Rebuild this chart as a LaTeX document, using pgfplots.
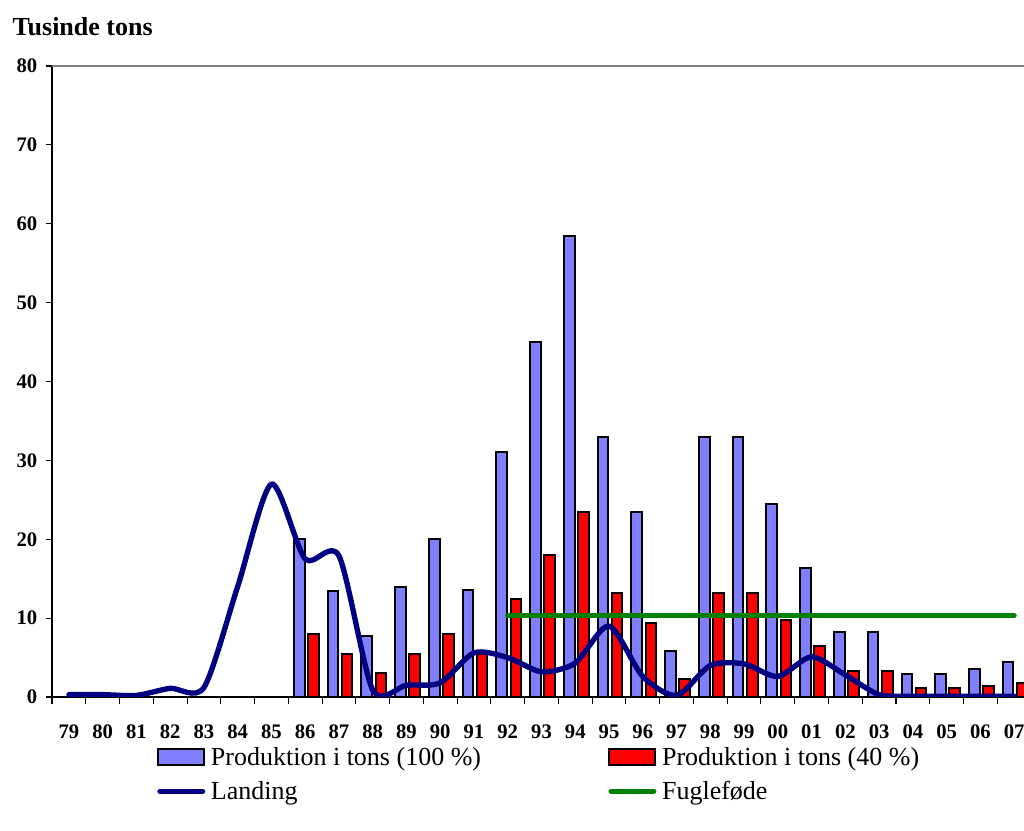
\documentclass[border=0pt]{standalone}
\usepackage{fontspec}
\setmainfont{Liberation Serif}
\usepackage{pgfplots}
\pgfplotsset{compat=1.18}
\definecolor{barblue}{HTML}{8080FF}
\definecolor{barred}{HTML}{FF0000}
\definecolor{landnavy}{HTML}{000080}
\definecolor{fuglegreen}{HTML}{008000}
\begin{document}
\begin{tikzpicture}
\begin{axis}[
  at={(0,0)}, anchor=south west,
  scale only axis,
  width=734.25pt, height=473.25pt,
  xmin=-0.5, xmax=28.5, ymin=0, ymax=80,
  axis x line*=bottom, axis y line*=left,
  axis line style={black, line width=0.8pt},
  xtick={0,...,28},
  xticklabels={79,80,81,82,83,84,85,86,87,88,89,90,91,92,93,94,95,96,97,98,99,00,01,02,03,04,05,06,07},
  major x tick style={draw=none},
  minor xtick={-0.5,0.5,...,28.5},
  minor tick length=5pt,
  ytick={0,10,...,70},
  extra y ticks={80},
  extra y tick labels={80},
  extra y tick style={ymajorgrids=true, major grid style={gray, line width=1.2pt}},
  tick align=outside,
  major tick length=4.5pt,
  tick style={black, line width=0.8pt},
  /pgf/number format/assume math mode=true,
  tick label style={font=\fontsize{15.5}{18}\selectfont\bfseries},
  xticklabel style={yshift=-12.5pt},
  yticklabel style={xshift=-3pt},
  legend columns=2,
  legend style={draw=none, fill=none, inner sep=0pt,
    at={(0.1073,-0.0752)}, anchor=north west,
    font=\fontsize{19.5}{23}\selectfont, row sep=6.25pt,
    /tikz/every even column/.append style={column sep=93.5pt}},
  legend cell align=left,
]
\addplot[ybar, bar width=8pt, bar shift=-4.5pt, fill=barblue, draw=black, line width=1.5pt,
  legend image code/.code={\draw[fill=barblue, draw=black, line width=1.5pt] (0.75pt,-5.5pt) rectangle (35.25pt,6pt);}]
  coordinates {(7,20) (8,13.5) (9,7.7) (10,13.9) (11,20) (12,13.6) (13,31) (14,45) (15,58.5) (16,33) (17,23.5) (18,5.8) (19,33) (20,33) (21,24.5) (22,16.4) (23,8.2) (24,8.2) (25,2.9) (26,2.9) (27,3.5) (28,4.4)};
\addlegendentry{\hspace{2.25pt}Produktion i tons (100 \%)}
\addplot[ybar, bar width=8pt, bar shift=6.1pt, fill=barred, draw=black, line width=1.5pt,
  legend image code/.code={\draw[fill=barred, draw=black, line width=1.5pt] (0.75pt,-5.5pt) rectangle (35.25pt,6pt);}]
  coordinates {(7,8) (8,5.4) (9,3.1) (10,5.5) (11,8) (12,5.5) (13,12.4) (14,18) (15,23.4) (16,13.2) (17,9.4) (18,2.3) (19,13.2) (20,13.2) (21,9.8) (22,6.5) (23,3.3) (24,3.3) (25,1.1) (26,1.1) (27,1.4) (28,1.8)};
\addlegendentry{\hspace{2.25pt}Produktion i tons (40 \%)}
\addplot[landnavy, line width=4pt, smooth, tension=0.45, line cap=round, line join=round,
  legend image code/.code={\draw[landnavy, line width=4pt, line cap=round] (2pt,0pt) -- (34pt,0pt);}]
  coordinates {(0,0.3) (1,0.3) (2,0.2) (3,1.1) (4,1.2) (5,14) (6,27) (7,17.5) (8,17.9) (9,0.9) (10,1.5) (11,1.8) (12,5.6) (13,5.0) (14,3.2) (15,4.3) (16,9.0) (17,2.6) (18,0.2) (19,4.0) (20,4.2) (21,2.6) (22,5.1) (23,2.8) (24,0.3) (25,0.1) (26,0.1) (27,0.1) (28,0.1)};
\addlegendentry{\hspace{2.25pt}Landing}
\addplot[fuglegreen, line width=4pt, line cap=round,
  legend image code/.code={\draw[fuglegreen, line width=4pt, line cap=round] (2pt,0pt) -- (34pt,0pt);}]
  coordinates {(13,10.3) (14,10.3) (15,10.3) (16,10.3) (17,10.3) (18,10.3) (19,10.3) (20,10.3) (21,10.3) (22,10.3) (23,10.3) (24,10.3) (25,10.3) (26,10.3) (27,10.3) (28,10.3)};
\addlegendentry{\hspace{2.25pt}Fuglef\o de}
\end{axis}
\node[anchor=base west, font=\fontsize{19.5}{23}\selectfont\bfseries] at (-33pt,495.75pt) {Tusinde tons};
\pgfresetboundingbox
\path[use as bounding box] (-39pt,-100.5pt) rectangle (729pt,522.75pt);
\end{tikzpicture}
\end{document}
